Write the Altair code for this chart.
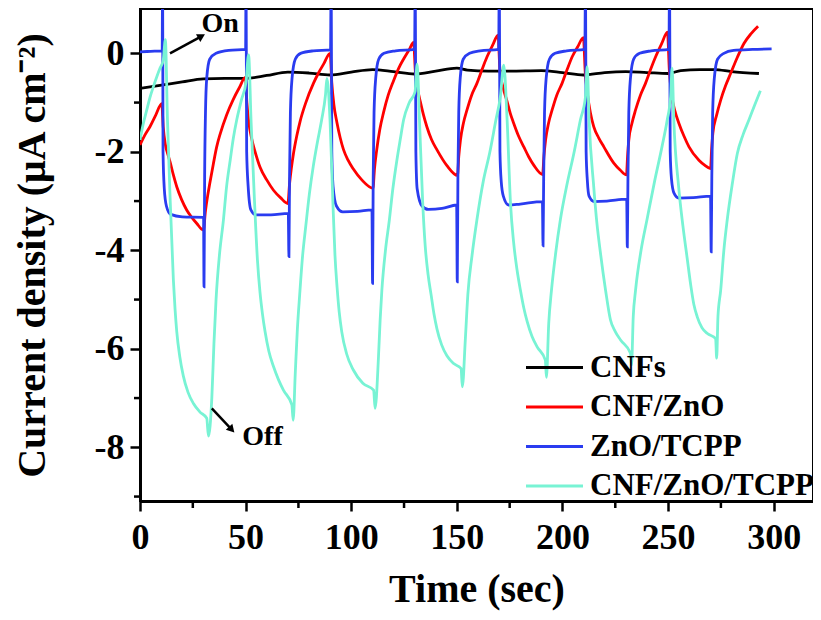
import altair as alt
import pandas as pd

series_names = ["CNFs", "CNF/ZnO", "ZnO/TCPP", "CNF/ZnO/TCPP"]
series_colors = ["#000000", "#ff0000", "#2a3cf0", "#78f3d4"]

# CNFs (black)
cnf_t = [0, 11, 20, 30, 40, 50, 60, 70, 80, 90, 100, 110, 120, 130, 140, 150, 155, 165,
         175, 190, 200, 210, 220, 230, 240, 250, 256, 265, 272, 280, 293]
cnf_y = [-0.71, -0.64, -0.58, -0.52, -0.51, -0.51, -0.45, -0.38, -0.40, -0.44, -0.38,
         -0.33, -0.37, -0.42, -0.36, -0.30, -0.34, -0.36, -0.36, -0.35, -0.39, -0.44,
         -0.39, -0.37, -0.39, -0.41, -0.35, -0.33, -0.33, -0.37, -0.41]

# CNF/ZnO (red)
zno_t = [0, 2.3, 4.7, 7.5, 10.3,
         11.0, 12.0, 13.2, 14.2, 15.8, 17.4, 19.7, 22.1, 24.5, 26.8, 30.0,
         31.0, 32.0, 33.0, 34.7, 36.3, 38.0, 41.0, 44.0, 47.0, 49.9,
         50.6, 51.5, 52.8, 54.5, 56.9, 60.0, 63.2, 66.5, 70.0,
         70.8, 71.6, 72.6, 74.2, 75.8, 78.5, 82.1, 84.5, 86.9, 90.0,
         90.8, 91.8, 93.2, 94.8, 96.3, 98.5, 101.0, 105.0, 110.3,
         111.0, 112.0, 113.5, 115.3, 117.5, 120.0, 122.5, 125.0, 127.5, 129.5,
         130.4, 131.4, 132.7, 134.2, 135.8, 138.0, 140.6, 145.3, 150.3,
         150.9, 151.7, 153.1, 154.8, 157.0, 159.5, 162.0, 164.3, 167.0, 169.5,
         170.4, 171.8, 173.8, 175.3, 176.9, 179.2, 181.7, 184.0, 186.4, 190.6,
         191.2, 192.0, 193.4, 195.1, 197.3, 199.8, 202.2, 204.6, 207.3, 209.9,
         210.8, 211.9, 213.2, 214.8, 217.2, 219.6, 224.3, 227.3, 230.3,
         230.8, 231.4, 232.9, 234.6, 236.9, 239.3, 241.7, 244.1, 247.0, 249.7,
         250.6, 251.7, 253.3, 255.1, 257.5, 259.9, 264.6, 267.3, 270.1,
         270.6, 271.2, 273.0, 274.9, 277.2, 279.6, 282.8, 285.9, 289.3, 292.6]
zno_y = [-1.86, -1.66, -1.49, -1.25, -1.02,
         -1.50, -1.85, -2.05, -2.20, -2.47, -2.71, -2.97, -3.18, -3.33, -3.45, -3.59,
         -3.20, -2.90, -2.65, -2.25, -1.90, -1.63, -1.25, -0.95, -0.70, -0.49,
         -1.00, -1.40, -1.72, -2.00, -2.32, -2.57, -2.78, -2.93, -3.05,
         -2.65, -2.35, -2.05, -1.68, -1.38, -1.00, -0.61, -0.40, -0.22, 0.00,
         -0.60, -1.05, -1.40, -1.72, -1.95, -2.17, -2.35, -2.57, -2.74,
         -2.35, -1.98, -1.55, -1.20, -0.85, -0.56, -0.30, -0.10, 0.08, 0.22,
         -0.40, -0.72, -0.98, -1.25, -1.49, -1.75, -1.96, -2.28, -2.48,
         -2.10, -1.76, -1.42, -1.15, -0.85, -0.61, -0.32, -0.07, 0.17, 0.37,
         -0.35, -0.68, -0.98, -1.22, -1.42, -1.68, -1.90, -2.10, -2.27, -2.46,
         -2.10, -1.76, -1.42, -1.15, -0.85, -0.61, -0.33, -0.07, 0.14, 0.32,
         -0.40, -0.85, -1.20, -1.49, -1.72, -1.90, -2.23, -2.37, -2.47,
         -2.10, -1.76, -1.42, -1.15, -0.85, -0.61, -0.33, -0.07, 0.20, 0.43,
         -0.35, -0.85, -1.18, -1.42, -1.68, -1.90, -2.17, -2.27, -2.34,
         -1.95, -1.62, -1.25, -0.95, -0.66, -0.41, -0.08, 0.20, 0.40, 0.55]

# ZnO/TCPP (blue)
tcpp_t = [0, 5, 10.5, 10.7, 10.9, 11.5, 12.5, 14.5, 20, 30.1, 30.3, 30.6, 31.0, 31.6, 33.0, 36.0, 42, 50.0,
          50.2, 50.5, 51.2, 52.5, 54.8, 62, 70.2, 70.5, 70.8, 71.2, 72.0, 73.5, 76, 82, 90.2,
          90.5, 90.8, 91.4, 93, 96, 103, 109.8, 110.1, 110.4, 110.8, 111.6, 113, 115.5, 121, 130.0,
          130.3, 130.6, 131.2, 133.5, 136.5, 143, 149.9, 150.2, 150.5, 150.9, 151.6, 153, 156, 161, 169.8,
          170.1, 170.4, 171.0, 172, 174.5, 180, 190.5, 190.8, 191.1, 191.5, 192.3, 193.8, 196.5, 202, 210.6,
          210.9, 211.2, 211.8, 212.6, 215, 221, 230.4, 230.7, 231.0, 231.4, 232.2, 233.7, 236.5, 242, 250.4,
          250.7, 251.0, 251.6, 252.8, 255, 262, 270.1, 270.4, 270.7, 271.1, 271.9, 273.4, 276.4, 281, 290, 299]
tcpp_y = [0.03, 0.04, 0.05, 1.6, -2.0, -2.75, -3.1, -3.27, -3.32, -3.33, -4.74, -2.5, -1.2, -0.5, -0.12, 0.0, 0.06, 0.08,
          1.6, -2.0, -2.7, -3.18, -3.28, -3.28, -3.25, -4.13, -2.5, -1.2, -0.5, -0.12, 0.0, 0.05, 0.07,
          1.6, -2.0, -2.7, -3.1, -3.22, -3.21, -3.18, -4.67, -2.5, -1.2, -0.5, -0.12, 0.0, 0.05, 0.08,
          1.6, -2.0, -2.75, -3.1, -3.17, -3.15, -3.08, -4.64, -2.5, -1.2, -0.5, -0.12, 0.0, 0.05, 0.08,
          1.6, -2.0, -2.6, -2.9, -3.08, -3.06, -3.01, -3.91, -2.5, -1.2, -0.5, -0.12, 0.0, 0.05, 0.08,
          1.6, -2.0, -2.6, -2.9, -3.01, -3.0, -2.96, -3.93, -2.5, -1.2, -0.5, -0.12, 0.0, 0.05, 0.08,
          1.6, -2.0, -2.55, -2.84, -2.94, -2.93, -2.9, -4.03, -2.5, -1.2, -0.5, -0.12, 0.0, 0.06, 0.08, 0.09]

# CNF/ZnO/TCPP (cyan)
all_t = [0, 1.6, 3.2, 4.7, 6.3, 8.0, 9.5, 11.0, 12.0,
         13.0, 14.3, 15.8, 16.6, 17.4, 18.8, 20.5, 22.7, 25.3, 28.3, 31.6, 32.4,
         34.0, 35.0, 36.0, 37.6, 39.5, 41.0, 42.7, 44.2, 45.8, 48.0, 50.2, 51.4,
         52.6, 54.2, 55.6, 56.8, 58.0, 59.2, 61.0, 63.2, 65.5, 67.9, 71.9, 72.5,
         73.5, 74.5, 75.6, 77.0, 78.5, 80.2, 82.0, 84.0, 86.0, 87.8, 88.5,
         90.0, 91.3, 92.3, 93.3, 94.3, 95.5, 97.8, 101.0, 105.5, 110.6, 111.3,
         112.9, 113.7, 114.5, 116.2, 118.0, 119.7, 121.5, 123.2, 124.8, 127.5, 130.2, 131.2,
         132.3, 133.8, 135.0, 136.4, 137.8, 139.2, 140.6, 142.8, 145.3, 148.5, 152.0, 152.6,
         154.0, 155.2, 157.2, 159.5, 162.5, 165.5, 168.5, 170.6, 172.2,
         173.8, 175.4, 176.9, 178.5, 180.1, 181.7, 183.3, 185.6, 188.0, 191.9, 192.4,
         193.5, 194.8, 196.8, 199.0, 202.2, 205.4, 208.5, 210.9, 211.7,
         212.6, 214.8, 216.3, 218.0, 220.4, 222.7, 225.0, 227.5, 232.2, 232.7,
         233.5, 234.6, 237.2, 240.0, 243.6, 247.1, 249.6, 251.2, 251.9,
         252.7, 255.0, 257.0, 259.0, 260.7, 262.2, 263.8, 266.0, 268.6, 272.5, 273.0,
         273.6, 274.9, 276.4, 278.0, 280.4, 282.8, 285.5, 288.3, 291.0, 293.7]
all_y = [-1.76, -1.42, -1.15, -0.90, -0.68, -0.47, -0.30, -0.14, 0.28,
         -1.35, -3.0, -4.6, -5.2, -5.65, -6.15, -6.55, -6.88, -7.11, -7.28, -7.41, -7.77,
         -7.0, -5.9, -5.0, -4.1, -3.38, -2.7, -2.17, -1.72, -1.35, -0.95, -0.58, -0.03,
         -1.40, -3.0, -4.2, -4.85, -5.3, -5.65, -6.05, -6.36, -6.62, -6.84, -7.14, -7.45,
         -6.5, -5.6, -4.9, -4.1, -3.5, -2.85, -2.3, -1.8, -1.35, -0.85, -0.51,
         -1.40, -3.0, -4.1, -4.75, -5.25, -5.65, -6.1, -6.43, -6.70, -6.84, -7.21,
         -6.16, -5.4, -4.81, -4.0, -3.4, -2.75, -2.2, -1.75, -1.35, -1.0, -0.78, -0.22,
         -1.35, -3.0, -3.9, -4.5, -4.9, -5.3, -5.6, -5.92, -6.14, -6.30, -6.40, -6.77,
         -5.82, -4.9, -4.1, -3.38, -2.6, -2.03, -1.35, -0.88, -0.24,
         -1.36, -3.05, -3.85, -4.4, -4.81, -5.17, -5.45, -5.75, -5.96, -6.23, -6.58,
         -5.48, -4.81, -4.05, -3.38, -2.65, -2.03, -1.35, -0.88, -0.27,
         -1.35, -2.71, -3.45, -4.06, -4.81, -5.41, -5.65, -5.82, -6.09, -6.33,
         -5.35, -4.81, -4.0, -3.38, -2.6, -1.90, -1.35, -0.88, -0.30,
         -1.35, -2.71, -3.5, -4.15, -4.7, -5.1, -5.35, -5.57, -5.69, -5.79, -6.19,
         -5.35, -4.81, -4.0, -3.38, -2.65, -2.03, -1.65, -1.35, -1.05, -0.76]

x_major = [0, 50, 100, 150, 200, 250, 300]
x_minor = [25, 75, 125, 175, 225, 275]
y_major = [-8, -6, -4, -2, 0]
y_minor = [-9, -7, -5, -3, -1]

# annotations
arrow_t0 = [14.2, 34.0]
arrow_y0 = [0.0, -7.21]
arrow_t1 = [28.6, 43.0]
arrow_y1 = [0.335, -7.62]
arrow_angle = [61, 137]
note_text = ["On", "Off"]
note_t = [37.9, 58.0]
note_y = [0.44, -7.95]

frames = []
for name, ts, ys in zip(series_names, [cnf_t, zno_t, tcpp_t, all_t], [cnf_y, zno_y, tcpp_y, all_y]):
    frames.append(pd.DataFrame({"t": ts, "j": ys, "series": name}))
df = pd.concat(frames, ignore_index=True)

FONT = "Liberation Serif"
W, H = 673, 492
x_scale = alt.Scale(domain=[0, 318.6], nice=False, zero=False)
y_scale = alt.Scale(domain=[-9.09, 0.9], nice=False, zero=False)

lines = alt.Chart(df).mark_line(clip=True, strokeWidth=2.8, interpolate="monotone").encode(
    x=alt.X("t:Q", scale=x_scale, axis=alt.Axis(
        values=x_major, format="d", title="Time (sec)", grid=False,
        tickSize=10, tickWidth=2.5, tickColor="black", domainColor="black", domainWidth=3,
        labelFont=FONT, labelFontSize=36, labelFontWeight="bold", labelColor="black",
        labelPadding=9, labelFlush=False,
        titleFont=FONT, titleFontSize=40, titleFontWeight="bold", titleColor="black",
        titlePadding=14)),
    y=alt.Y("j:Q", scale=y_scale, axis=alt.Axis(
        values=y_major, title="Current density (μA cm⁻²)", grid=False,
        labelExpr="datum.value < 0 ? '-' + abs(datum.value) : '' + datum.value",
        tickSize=10, tickWidth=2.5, tickColor="black", domainColor="black", domainWidth=3,
        labelFont=FONT, labelFontSize=36, labelFontWeight="bold", labelColor="black",
        labelPadding=6, labelFlush=False,
        titleFont=FONT, titleFontSize=40, titleFontWeight="bold", titleColor="black",
        titlePadding=42)),
    color=alt.Color("series:N", sort=series_names,
                    scale=alt.Scale(domain=series_names, range=series_colors),
                    legend=alt.Legend(orient="none", legendX=398, legendY=342, title=None,
                                      symbolType="M-1.9,0L1.9,0", symbolSize=900,
                                      symbolStrokeWidth=3,
                                      labelFont=FONT, labelFontSize=31, labelFontWeight="bold",
                                      labelColor="black", labelOffset=19, rowPadding=7.5,
                                      labelLimit=400)),
)

minor_x = alt.Chart(pd.DataFrame({"t": x_minor})).mark_rule(color="black", strokeWidth=2.5).encode(
    x=alt.X("t:Q", scale=x_scale),
    y=alt.value(H), y2=alt.value(H + 7))

minor_y = alt.Chart(pd.DataFrame({"j": y_minor})).mark_rule(color="black", strokeWidth=2.5).encode(
    y=alt.Y("j:Q", scale=y_scale),
    x=alt.value(-6), x2=alt.value(0))

arrows_df = pd.DataFrame({"t": arrow_t0, "j": arrow_y0, "t1": arrow_t1, "j1": arrow_y1, "ang": arrow_angle})
arrow_lines = alt.Chart(arrows_df).mark_rule(color="black", strokeWidth=2.5).encode(
    x=alt.X("t:Q", scale=x_scale), y=alt.Y("j:Q", scale=y_scale),
    x2="t1:Q", y2="j1:Q")
arrow_heads = alt.Chart(arrows_df).mark_point(shape="triangle", filled=True, color="black",
                                              size=80, opacity=1).encode(
    x=alt.X("t1:Q", scale=x_scale), y=alt.Y("j1:Q", scale=y_scale),
    angle=alt.Angle("ang:Q", scale=None))

notes = alt.Chart(pd.DataFrame({"t": note_t, "j": note_y, "txt": note_text})).mark_text(
    font=FONT, fontSize=28, fontWeight="bold", color="black", baseline="alphabetic").encode(
    x=alt.X("t:Q", scale=x_scale), y=alt.Y("j:Q", scale=y_scale),
    text="txt:N")

chart = alt.layer(lines, minor_x, minor_y, arrow_lines, arrow_heads, notes).properties(
    width=W, height=H,
    autosize=alt.AutoSizeParams(type="none"),
    padding={"left": 132, "top": 1, "right": 0, "bottom": 110},
).configure_view(stroke="black", strokeWidth=2)

chart.save("out.html", embed_options={"renderer": "svg", "actions": False})
